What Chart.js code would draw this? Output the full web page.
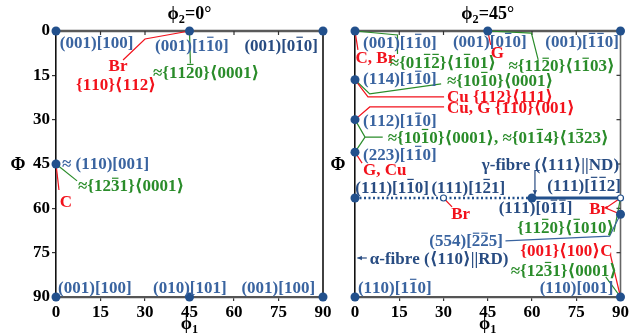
<!DOCTYPE html>
<html>
<head>
<meta charset="utf-8">
<script src="https://cdn.jsdelivr.net/npm/chart.js@4.4.1/dist/chart.umd.min.js"></script>
<style>
  html, body { margin: 0; padding: 0; background: #fff; }
  #wrap { position: relative; width: 630px; height: 336px; }
  canvas { position: absolute; left: 0; top: 0; }
</style>
</head>
<body>
<div id="wrap">
  <canvas id="left" width="630" height="336"></canvas>
  <canvas id="right" width="630" height="336"></canvas>
</div>
<script>
// axis ticks (degrees)
const phi1Ticks = [0, 15, 30, 45, 60, 75, 90];
const bigPhiTicks = [0, 15, 30, 45, 60, 75, 90];

// phi2 = 0 section: ideal orientations
const s0Phi1 = [0, 45, 90, 0, 0, 45, 90];
const s0Phi  = [0, 0, 0, 45, 90, 90, 90];

// phi2 = 45 section: ideal orientations
const s45Phi1 = [0, 45, 90, 0, 0, 0, 0, 60, 90, 0, 90];
const s45Phi  = [0, 0, 0, 16.5, 30, 41, 56.5, 56.5, 62, 90, 90];
// open circles (Br components on the gamma fibre)
const s45OpenPhi1 = [30, 90];
const s45OpenPhi  = [56.5, 56.5];
// gamma fibre: dotted part and solid part
const gammaDottedPhi1 = [0, 60];
const gammaSolidPhi1  = [60, 90];
const gammaPhi = [56.5, 56.5];

const SERIF = '"Liberation Serif", "DejaVu Serif", serif';
const B = '#3a64a0', B2 = '#284c82', R = '#f2121c', G = '#2a8c2a', DOT = '#22508c';
const LABEL_SIZE = 17;

// text labels, placed in (phi1, Phi) units; '!' = overline on next char
const notesLeft = [
  { t: '(001)[100]', at: [1.3, 3.7], c: B },
  { t: '(001)[1!10]', at: [33.4, 4.7], c: B },
  { t: '(001)[0!10]', at: [63.5, 4.7], c: B2 },
  { t: 'Br', at: [20.9, 11.8], c: R, align: 'center' },
  { t: '{110}⟨112⟩', at: [20.2, 17.9], c: R, align: 'center' },
  { t: '≈{11!20}⟨0001⟩', at: [32.7, 13.9], c: G },
  { t: '≈ (110)[001]', at: [2.0, 44.7], c: B },
  { t: '≈{12!31}⟨0001⟩', at: [7.4, 52.4], c: G },
  { t: 'C', at: [1.3, 57.5], c: R },
  { t: '(001)[100]', at: [0.7, 86.6], c: B },
  { t: '(010)[101]', at: [32.7, 86.6], c: B },
  { t: '(001)[100]', at: [62.5, 86.6], c: B }
];
const leadsLeft = [
  { c: R, pts: [[45, 0], [30.0, 2.7], [22.6, 9.8]] },
  { c: G, pts: [[45, 0], [45.3, 11]] },
  { c: G, pts: [[0, 45], [7.1, 50.7]] },
  { c: R, pts: [[0, 45], [1.0, 53.8]] }
];

const notesRight = [
  { t: '(001)[1!10]', at: [2.7, 3.7], c: B },
  { t: '(001)[0!10]', at: [33.2, 3.4], c: B },
  { t: '(001)[!1!10]', at: [64.5, 3.4], c: B },
  { t: 'C, Br', at: [0.2, 8.8], c: R },
  { t: '≈{01!1!2}⟨1!101⟩', at: [11.8, 10.5], c: G },
  { t: 'G', at: [46.0, 7.4], c: R },
  { t: '≈{11!20}⟨1!103⟩', at: [52.0, 11.8], c: G },
  { t: '(114)[1!10]', at: [2.7, 16.2], c: B },
  { t: '≈{10!10}⟨0001⟩', at: [31.2, 16.6], c: G },
  { t: 'Cu {112}⟨111⟩', at: [31.2, 22.0], c: R },
  { t: 'Cu, G {110}⟨001⟩', at: [31.2, 26.0], c: R },
  { t: '(112)[1!10]', at: [2.7, 30.4], c: B },
  { t: '≈{10!10}⟨0001⟩, ≈{01!14}⟨1!323⟩', at: [11.1, 35.9], c: G },
  { t: '(223)[1!10]', at: [2.7, 41.6], c: B },
  { t: 'G, Cu', at: [2.7, 46.7], c: R },
  { t: 'γ-fibre (⟨111⟩||ND)', at: [43.0, 45.3], c: B2 },
  { t: '(111)[1!10]', at: [0.1, 52.8], c: B2 },
  { t: '(111)[1!21]', at: [25.9, 52.8], c: B2 },
  { t: '(111)[!1!12]', at: [65.2, 52.1], c: B2 },
  { t: '(111)[0!1!1]', at: [48.7, 59.8], c: B2 },
  { t: 'Br', at: [32.6, 61.8], c: R },
  { t: 'Br', at: [79.4, 59.9], c: R },
  { t: '{11!20}⟨!1010⟩', at: [55.0, 66.3], c: G },
  { t: '(554)[!2!25]', at: [25.2, 71.0], c: B },
  { t: '{001}⟨100⟩C', at: [56.0, 74.1], c: R },
  { t: 'α-fibre (⟨110⟩||RD)', at: [5.0, 76.8], c: B2 },
  { t: '≈{12!31}⟨0001⟩', at: [52.8, 80.9], c: G },
  { t: '(110)[1!10]', at: [1.0, 86.6], c: B },
  { t: '(110)[001]', at: [62.6, 86.9], c: B }
];
const leadsRight = [
  { c: R, pts: [[0, 0], [1.0, 6.4]] },
  { c: G, pts: [[0, 0], [14.4, 1.35], [14.4, 7.8]] },
  { c: R, pts: [[45, 0], [46.0, 4.7]] },
  { c: G, pts: [[45, 0], [59.8, 0.7], [62.1, 9.8]] },
  { c: G, pts: [[0, 16.5], [5.0, 21.3], [29.2, 17.9]] },
  { c: R, pts: [[0, 16.5], [4.4, 22.3], [30.2, 22.3]] },
  { c: R, pts: [[0, 30], [5.0, 25.7], [30.2, 25.7]] },
  { c: G, pts: [[0, 30], [3.4, 35.9], [9.4, 35.9]] },
  { c: G, pts: [[0, 41], [3.4, 35.9]] },
  { c: R, pts: [[0, 41], [2.4, 44.7]] },
  { c: B2, pts: [[62.6, 47.2], [61.0, 47.2], [61.0, 55.4]], arrow: true },
  { c: R, pts: [[30, 56.5], [32.9, 59.5]] },
  { c: R, pts: [[90, 56.5], [85.0, 59.9], [90, 62]] },
  { c: G, pts: [[90, 56.5], [87.8, 68.0]] },
  { c: B, pts: [[51.0, 71.0], [86.3, 69.4], [90, 62]] },
  { c: R, pts: [[86.6, 75.8], [90, 90]] },
  { c: G, pts: [[85.0, 83.2], [90, 90]] },
  { c: B2, pts: [[4.0, 76.8], [0.8, 76.8]], arrow: true }
];

function drawRich(ctx, str, x, y, color, size, align) {
  const parts = [];
  for (let i = 0; i < str.length; i++) {
    let c = str[i], mode = '';
    if (c === '!' || c === '_') { mode = c; c = str[++i]; }
    parts.push({ c, mode });
  }
  const font = s => 'bold ' + s + 'px ' + SERIF;
  let w = 0;
  for (const p of parts) {
    ctx.font = font(p.mode === '_' ? size * 0.68 : size);
    p.w = ctx.measureText(p.c).width;
    w += p.w;
  }
  let cx = align === 'center' ? x - w / 2 : align === 'right' ? x - w : x;
  const base = y + size * 0.33;
  ctx.save();
  ctx.fillStyle = color;
  ctx.strokeStyle = color;
  ctx.textAlign = 'left';
  ctx.textBaseline = 'alphabetic';
  for (const p of parts) {
    ctx.font = font(p.mode === '_' ? size * 0.68 : size);
    ctx.fillText(p.c, cx, p.mode === '_' ? base + size * 0.22 : base);
    if (p.mode === '!') {
      ctx.lineWidth = 1.2;
      ctx.beginPath();
      ctx.moveTo(cx + p.w * 0.12, base - size * 0.78);
      ctx.lineTo(cx + p.w * 0.88, base - size * 0.78);
      ctx.stroke();
    }
    cx += p.w;
  }
  ctx.restore();
}

const notesPlugin = {
  id: 'notes',
  beforeDatasetsDraw(chart, args, opts) {
    const ctx = chart.ctx, a = chart.chartArea;
    const xs = chart.scales.x, ys = chart.scales.y;
    const X = v => xs.getPixelForValue(v), Y = v => ys.getPixelForValue(v);
    ctx.save();
    // top and right frame
    ctx.strokeStyle = '#5a5a5a';
    ctx.lineWidth = 2.5;
    ctx.beginPath(); ctx.moveTo(a.left, a.top); ctx.lineTo(a.right, a.top); ctx.stroke();
    ctx.strokeStyle = opts.rightColor;
    ctx.lineWidth = 1.6;
    ctx.beginPath(); ctx.moveTo(a.right, a.top); ctx.lineTo(a.right, a.bottom); ctx.stroke();
    // inward ticks on top and right
    ctx.strokeStyle = '#333';
    ctx.lineWidth = 1.2;
    phi1Ticks.slice(1, -1).forEach(v => {
      ctx.beginPath(); ctx.moveTo(X(v), a.top); ctx.lineTo(X(v), a.top + 4); ctx.stroke();
    });
    if (opts.rightTicks) {
      bigPhiTicks.slice(1, -1).forEach(v => {
        ctx.beginPath(); ctx.moveTo(a.right, Y(v)); ctx.lineTo(a.right - 4, Y(v)); ctx.stroke();
      });
    }
    // leader lines
    ctx.lineWidth = 1.2;
    for (const l of opts.leads) {
      ctx.strokeStyle = l.c;
      ctx.fillStyle = l.c;
      ctx.beginPath();
      l.pts.forEach((p, i) => i ? ctx.lineTo(X(p[0]), Y(p[1])) : ctx.moveTo(X(p[0]), Y(p[1])));
      ctx.stroke();
      if (l.arrow) {
        const p1 = l.pts[l.pts.length - 2], p2 = l.pts[l.pts.length - 1];
        const x2 = X(p2[0]), y2 = Y(p2[1]);
        const ang = Math.atan2(y2 - Y(p1[1]), x2 - X(p1[0]));
        ctx.beginPath();
        ctx.moveTo(x2, y2);
        ctx.lineTo(x2 - 5 * Math.cos(ang - 0.45), y2 - 5 * Math.sin(ang - 0.45));
        ctx.lineTo(x2 - 5 * Math.cos(ang + 0.45), y2 - 5 * Math.sin(ang + 0.45));
        ctx.closePath();
        ctx.fill();
      }
    }
    ctx.restore();
  },
  afterDatasetsDraw(chart, args, opts) {
    const ctx = chart.ctx, a = chart.chartArea;
    const xs = chart.scales.x, ys = chart.scales.y;
    for (const n of opts.notes) {
      drawRich(ctx, n.t, xs.getPixelForValue(n.at[0]), ys.getPixelForValue(n.at[1]), n.c, LABEL_SIZE, n.align || 'left');
    }
    const mid = (a.left + a.right) / 2;
    drawRich(ctx, opts.title, mid, 13, '#000', 18, 'center');
    drawRich(ctx, 'ϕ_1', mid, 323, '#000', 18, 'center');
    drawRich(ctx, 'Φ', opts.phiX, (a.top + a.bottom) / 2, '#000', 18, 'center');
  }
};

function pts(xsArr, ysArr) {
  return xsArr.map((v, i) => ({ x: v, y: ysArr[i] }));
}

const tickFont = { family: SERIF, size: 17, weight: 'bold' };

function makeChart(id, side) {
  const isLeft = side === 'left';
  const datasets = [];
  if (isLeft) {
    datasets.push({ data: pts(s0Phi1, s0Phi), pointRadius: 4.5, pointBackgroundColor: DOT, pointBorderWidth: 0, order: 0, clip: false });
  } else {
    datasets.push({ data: pts(gammaDottedPhi1, gammaPhi), showLine: true, borderColor: DOT, borderWidth: 2.6, borderDash: [2, 2.5], pointRadius: 0, order: 3, clip: false });
    datasets.push({ data: pts(gammaSolidPhi1, gammaPhi), showLine: true, borderColor: DOT, borderWidth: 2.8, pointRadius: 0, order: 2, clip: false });
    datasets.push({ data: pts(s45Phi1, s45Phi), pointRadius: 4.5, pointBackgroundColor: DOT, pointBorderWidth: 0, order: 1, clip: false });
    datasets.push({ data: pts(s45OpenPhi1, s45OpenPhi), pointRadius: 3, pointBackgroundColor: '#fff', pointBorderColor: DOT, pointBorderWidth: 1.2, order: 0, clip: false });
  }
  return new Chart(document.getElementById(id), {
    type: 'scatter',
    data: { datasets },
    plugins: [notesPlugin],
    options: {
      responsive: false,
      animation: false,
      events: [],
      layout: { padding: isLeft ? { top: 31, right: 307, left: 0, bottom: 0 } : { top: 31, right: 7, left: 345, bottom: 0 } },
      plugins: {
        legend: { display: false },
        tooltip: { enabled: false },
        notes: {
          notes: isLeft ? notesLeft : notesRight,
          leads: isLeft ? leadsLeft : leadsRight,
          title: isLeft ? 'ϕ_2=0°' : 'ϕ_2=45°',
          phiX: isLeft ? 18 : 338,
          rightColor: isLeft ? '#111' : '#666',
          rightTicks: !isLeft
        }
      },
      scales: {
        x: {
          type: 'linear', min: 0, max: 90,
          afterBuildTicks: s => { s.ticks = phi1Ticks.map(v => ({ value: v })); },
          afterFit: s => { s.height = 39; },
          ticks: { color: '#000', font: tickFont, padding: 1, maxRotation: 0, autoSkip: false },
          grid: { drawOnChartArea: false, tickLength: 4, color: '#333', lineWidth: 1.2 },
          border: { color: '#555', width: 2.2 }
        },
        y: {
          type: 'linear', min: 0, max: 90, reverse: true,
          afterBuildTicks: s => { s.ticks = bigPhiTicks.map(v => ({ value: v })); },
          afterFit: s => { s.width = isLeft ? 56 : 10; },
          ticks: { display: isLeft, color: '#000', font: tickFont, padding: 2, autoSkip: false },
          grid: { display: isLeft, drawOnChartArea: false, tickLength: 4, color: '#333', lineWidth: 1.2 },
          border: { display: true, color: '#111', width: 1.6 }
        }
      }
    }
  });
}

makeChart('left', 'left');
makeChart('right', 'right');
</script>
</body>
</html>
